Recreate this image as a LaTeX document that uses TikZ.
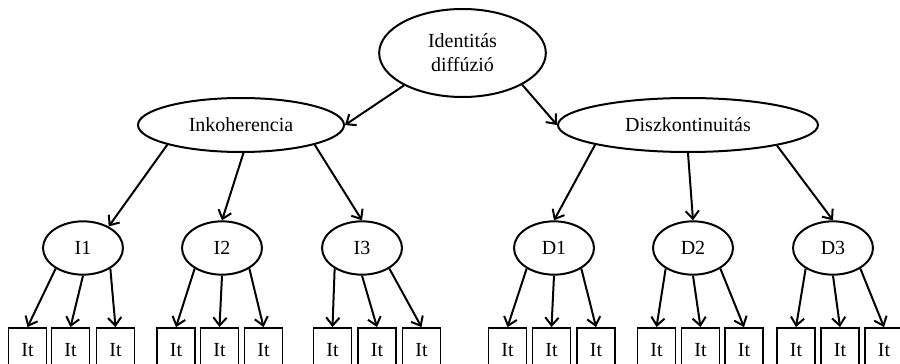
\documentclass[tikz,border=0pt]{standalone}
\usepackage{fontspec}
\setmainfont{Liberation Serif}
\usetikzlibrary{shapes.geometric,arrows.meta}
\tikzset{
  oval/.style={draw, ellipse, inner sep=0pt, line width=1.5pt, align=center,
    font=\fontsize{15}{18}\selectfont},
  itbox/.style={draw, rectangle, inner sep=0pt, minimum width=28.5pt, minimum height=33pt,
    line width=1.4pt, font=\fontsize{15}{18}\selectfont},
  arr/.style={-{Straight Barb[length=6pt,width=10pt]}, line width=1.5pt},
}
\begin{document}
\begin{tikzpicture}[x=0.75pt,y=-0.75pt]
\useasboundingbox (0,0) rectangle (900,364);
\clip (0,0) rectangle (900,364);
% top
\node[oval, minimum width=125pt, minimum height=66pt] (top) at (462.5,53) {Identitás\\diffúzió};
\node[oval, minimum width=154.5pt, minimum height=40.5pt] (ink) at (241,125) {Inkoherencia};
\node[oval, minimum width=195pt, minimum height=40.5pt] (dis) at (688,125) {Diszkontinuitás};
% second level
\foreach \n/\x in {I1/83, I2/222, I3/362, D1/554, D2/693, D3/833}
  \node[oval, minimum width=60pt, minimum height=40pt] (\n) at (\x,248) {\n};
% boxes
\foreach \n/\a/\b/\c in {I1/27.5/70.5/115.5, I2/176/219.5/263.5, I3/332.5/377/421.5,
                         D1/507.5/551.5/596, D2/656.5/700.5/744, D3/796/840/884} {
  \node[itbox] (\n a) at (\a,350) {It};
  \node[itbox] (\n b) at (\b,350) {It};
  \node[itbox] (\n c) at (\c,350) {It};
}
% connectors top levels
\draw[arr] (top.209) -- (ink.east);
\draw[arr] (top.332) -- (dis.west);
\draw[arr] (ink.195) -- (I1.40);
\draw[arr] (ink.275) -- (I2.north);
\draw[arr] (ink.345) -- (I3.north);
\draw[arr] (dis.192) -- (D1.north);
\draw[arr] (dis.south) -- (D2.north);
\draw[arr] (dis.347) -- (D3.north);
% to boxes
\foreach \n in {I1,I2,I3,D1,D2,D3} {
  \draw[arr] (\n.217) -- (\n a.north);
  \draw[arr] (\n.south) -- (\n b.north);
  \draw[arr] (\n.323) -- (\n c.north);
}
\end{tikzpicture}
\end{document}
